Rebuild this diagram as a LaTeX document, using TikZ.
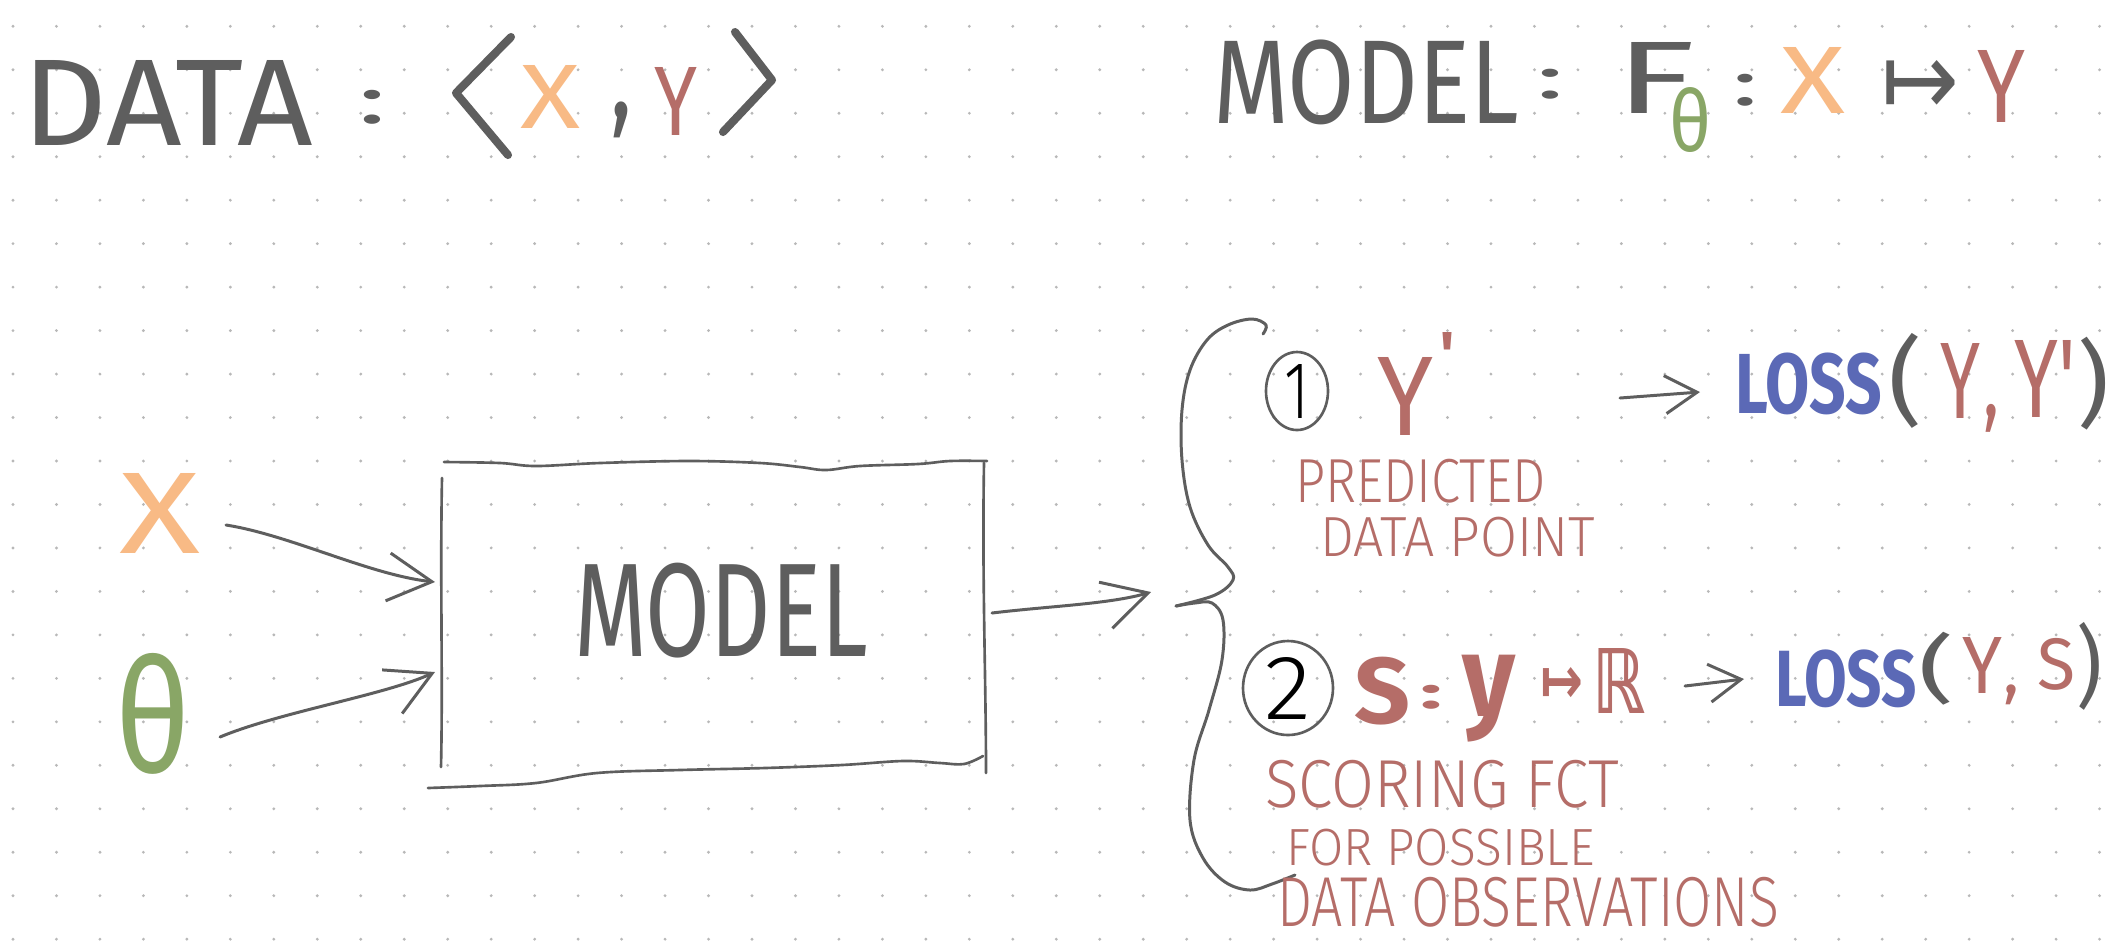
\documentclass[tikz,border=0pt]{standalone}
\usepackage{fontspec}
\setmainfont{Fira Sans}
\newfontfamily\regf{Fira Sans}
\newfontfamily\lightf{Fira Sans Light}
\newfontfamily\symf{DejaVu Sans}
\usetikzlibrary{arrows.meta,shapes.geometric}
\newlength\pxu \setlength\pxu{0.01cm}
\newcommand{\fitx}[3]{\resizebox*{#1\pxu}{#2\pxu}{#3}}
\definecolor{ink}{HTML}{5E5E5E}
\definecolor{orng}{HTML}{F8BA85}
\definecolor{rd}{HTML}{B56D68}
\definecolor{grn}{HTML}{89A666}
\definecolor{blu}{HTML}{5B69B6}
\definecolor{dotc}{HTML}{B8B8B8}
\begin{document}
\begin{tikzpicture}[x=0.01cm,y=-0.01cm,
  t/.style={inner sep=0pt,outer sep=0pt,anchor=south west},
  conn/.style={draw=ink,line width=0.85pt,line cap=round,line join=round},
  sketch/.style={draw=ink,line width=0.75pt,line cap=round,line join=round},
  brk/.style={draw=ink,line width=2.3pt,line cap=round,line join=round},
  barb/.style={-{Straight Barb[length=4.4mm,width=4.8mm]}},
  smallbarb/.style={-{Straight Barb[length=3.2mm,width=3.8mm]}},
  circ/.style={draw=ink,line width=0.75pt,ellipse,inner sep=0pt}]
\fill[white] (0,0) rectangle (2120,944);
\useasboundingbox (0,0) rectangle (2120,944);
% dot grid
\foreach \i in {0,...,48}{\foreach \j in {0,...,21}{
  \fill[dotc] ({13+43.47*\i},{26.3+43.47*\j}) circle[radius=0.45pt];}}

% ---- DATA : <X , Y>
\node[t,text=ink] (data) at (23,145) {\fitx{290}{85}{\regf DATA}};
\node[t,text=ink] (dcolon) at (358,124) {\fitx{28}{34}{\regf :}};
\draw[brk] (511,37) -- (456,93) -- (508,155);
\node[t,text=orng] (dx) at (520,128) {\fitx{60}{63}{\regf X}};
\node[t,text=ink] (dcomma) at (610,138) {\fitx{22}{36}{\regf ,}};
\node[t,text=rd] (dy) at (654,135) {\fitx{43}{68}{\regf Y}};
\draw[brk] (735,32) -- (772,80) -- (723,132);

% ---- MODEL : F_theta : X |-> Y
\node[t,text=ink] (mtitle) at (1213,125) {\fitx{306}{85}{\regf MODEL}};
\node[t,text=ink] (mcolon) at (1536,99) {\fitx{28}{30}{\regf :}};
\node[t,text=ink] (ff) at (1615,113) {\fitx{80}{71}{\regf F}};
\node[t,text=grn] (fth) at (1669,153) {\fitx{42}{65}{\regf θ}};
\node[t,text=ink] (fcolon) at (1732,106) {\fitx{26}{32}{\regf :}};
\node[t,text=orng] (fx) at (1780,113) {\fitx{65}{66}{\regf X}};
\node[t,text=ink] (fmap) at (1881,115) {\fitx{78}{55}{\symf ↦}};
\node[t,text=rd] (fy) at (1977,122) {\fitx{48}{72}{\regf Y}};

% ---- inputs and model box
\node[t,text=orng] (xin) at (119,553) {\fitx{81}{80}{\regf X}};
\node[t,text=grn] (thin) at (115,774) {\fitx{75}{121}{\regf θ}};
\node[inner sep=0pt,minimum width=541\pxu,minimum height=305\pxu] (box) at (714,618) {};
\node[t,text=ink] (mlabel) at (574,658) {\fitx{294}{95}{\regf MODEL}};
\draw[sketch] plot[smooth,tension=0.6] coordinates {(444,462) (500,463) (536,466) (600,463) (689,461) (760,463) (800,467) (826,470) (860,466) (918,464) (950,461) (987,461)};
\draw[sketch] (442,478) .. controls (440,580) and (443,680) .. (441,767);
\draw[sketch] (984,463) .. controls (982,580) and (986,680) .. (986,773);
\draw[sketch] plot[smooth,tension=0.6] coordinates {(428,788) (480,786) (536,783) (597,773) (680,770) (765,768) (842,765) (903,761) (940,763) (964,764) (983,756)};

\coordinate (xs) at (226,525);
\coordinate (xe) at (435,582);
\coordinate (ts) at (220,737);
\coordinate (te) at (435,672);
\coordinate (bs) at (992,613);
\coordinate (be) at (1151,592);
\draw[conn,barb] (xs) .. controls (290,535) and (370,575) .. (xe);
\draw[conn,barb] (ts) .. controls (280,712) and (385,695) .. (te);
\draw[conn,barb] (bs) .. controls (1050,606) and (1110,604) .. (be);

% ---- brace
\coordinate (tip) at (1176,606);
\draw[conn] plot[smooth,tension=0.6] coordinates {(1263,334) (1266,325) (1252,319) (1228,325) (1207,340) (1190,370) (1182,410) (1182,460) (1190,507) (1208,545) (1228,567) (1233,580) (1215,595) (1176,606)};
\draw[conn] plot[smooth,tension=0.6] coordinates {(1176,606) (1195,603) (1212,603) (1223,620) (1222,660) (1209,710) (1194,760) (1190,820) (1203,858) (1225,882) (1250,890) (1272,884) (1295,875)};

% ---- option 1
\node[circ,minimum width=62\pxu,minimum height=78\pxu] (c1) at (1297,391) {\fitx{25}{54}{\lightf 1}};
\node[t,text=rd] (y1) at (1377,435) {\fitx{56}{78}{\regf Y}};
\node[t,text=rd] (p1) at (1437,378) {\fitx{20}{46}{\regf '}};
\node[t,text=rd] (pred) at (1295,503) {\fitx{251}{44}{\lightf PREDICTED}};
\node[t,text=rd] (dpt) at (1320,557) {\fitx{275}{40}{\lightf DATA POINT}};
\coordinate (a1s) at (1620,398);
\coordinate (a1e) at (1700,392);
\draw[conn,smallbarb] (a1s) -- (a1e);
\node[t,text=blu] (loss1) at (1735,415) {\fitx{147}{62}{\bfseries LOSS}};
\node[t,text=ink] (lp1) at (1888,428) {\fitx{34}{95}{\regf (}};
\node[t,text=rd] (l1y) at (1940,418) {\fitx{40}{75}{\regf Y}};
\node[t,text=rd] (l1c) at (1983,432) {\fitx{16}{28}{\regf ,}};
\node[t,text=rd] (l1yp) at (2014,417) {\fitx{62}{77}{\regf Y'}};
\node[t,text=ink] (rp1) at (2077,430) {\fitx{32}{93}{\regf )}};

% ---- option 2
\node[circ,minimum width=90\pxu,minimum height=94\pxu] (c2) at (1288,688) {\fitx{47}{62}{\lightf 2}};
\node[t,text=rd] (s2) at (1354,725) {\fitx{56}{68}{\bfseries S}};
\node[t,text=rd] (s2c) at (1420,709) {\fitx{22}{24}{\bfseries :}};
\node[t,text=rd] (s2y) at (1462,742) {\fitx{53}{87}{\bfseries y}};
\node[t,text=rd] (s2m) at (1540,703) {\fitx{43}{36}{\symf\bfseries ↦}};
\node[t,text=rd] (s2r) at (1592,713) {\fitx{53}{65}{\symf\bfseries ℝ}};
\coordinate (a2s) at (1685,686);
\coordinate (a2e) at (1744,679);
\draw[conn,smallbarb] (a2s) -- (a2e);
\node[t,text=blu] (loss2) at (1775,708) {\fitx{142}{58}{\bfseries LOSS}};
\node[t,text=ink] (lp2) at (1918,705) {\fitx{36}{73}{\regf (}};
\node[t,text=rd] (l2y) at (1962,693) {\fitx{40}{56}{\regf Y}};
\node[t,text=rd] (l2c) at (2003,705) {\fitx{16}{20}{\regf ,}};
\node[t,text=rd] (l2s) at (2037,690) {\fitx{38}{52}{\regf S}};
\node[t,text=ink] (rp2) at (2076,710) {\fitx{26}{88}{\regf )}};
\node[t,text=rd] (sc1) at (1265,808) {\fitx{354}{48}{\lightf SCORING FCT}};
\node[t,text=rd] (sc2) at (1286,866) {\fitx{309}{37}{\lightf FOR POSSIBLE}};
\node[t,text=rd] (sc3) at (1277,927) {\fitx{502}{50}{\lightf DATA OBSERVATIONS}};
\end{tikzpicture}
\end{document}
